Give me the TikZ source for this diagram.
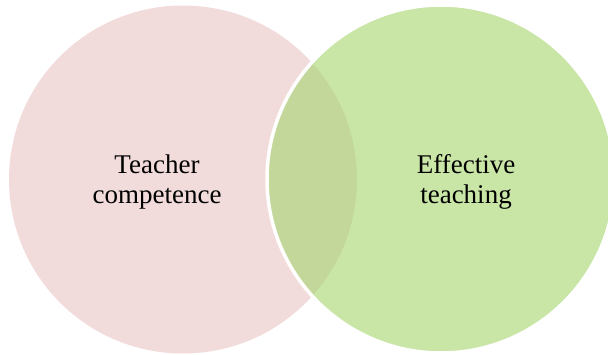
\documentclass[tikz,border=0pt]{standalone}
\usepackage{fontspec}
\setmainfont{Liberation Serif}
\definecolor{pinkfill}{RGB}{242,219,219}
\definecolor{greenfill}{RGB}{201,230,167}
\definecolor{overlapfill}{RGB}{196,215,155}
\begin{document}
\begin{tikzpicture}[x=1pt,y=1pt,
  lbl/.style={align=center,inner sep=0pt,font=\fontsize{27}{30}\selectfont,text=black}]
\useasboundingbox (0,0) rectangle (608,354);
\clip (0,0) rectangle (608,354);
\fill[pinkfill] (183,174.5) circle (174);
\fill[greenfill] (441,175) circle (174);
\begin{scope}
  \clip (441,175) circle (174);
  \fill[overlapfill] (183,174.5) circle (174);
\end{scope}
\draw[white,line width=3.5pt] (441,175) circle (174);
\node[lbl] (tc) at (157,172) {Teacher\\competence};
\node[lbl] (et) at (466,172) {Effective\\teaching};
\end{tikzpicture}
\end{document}
